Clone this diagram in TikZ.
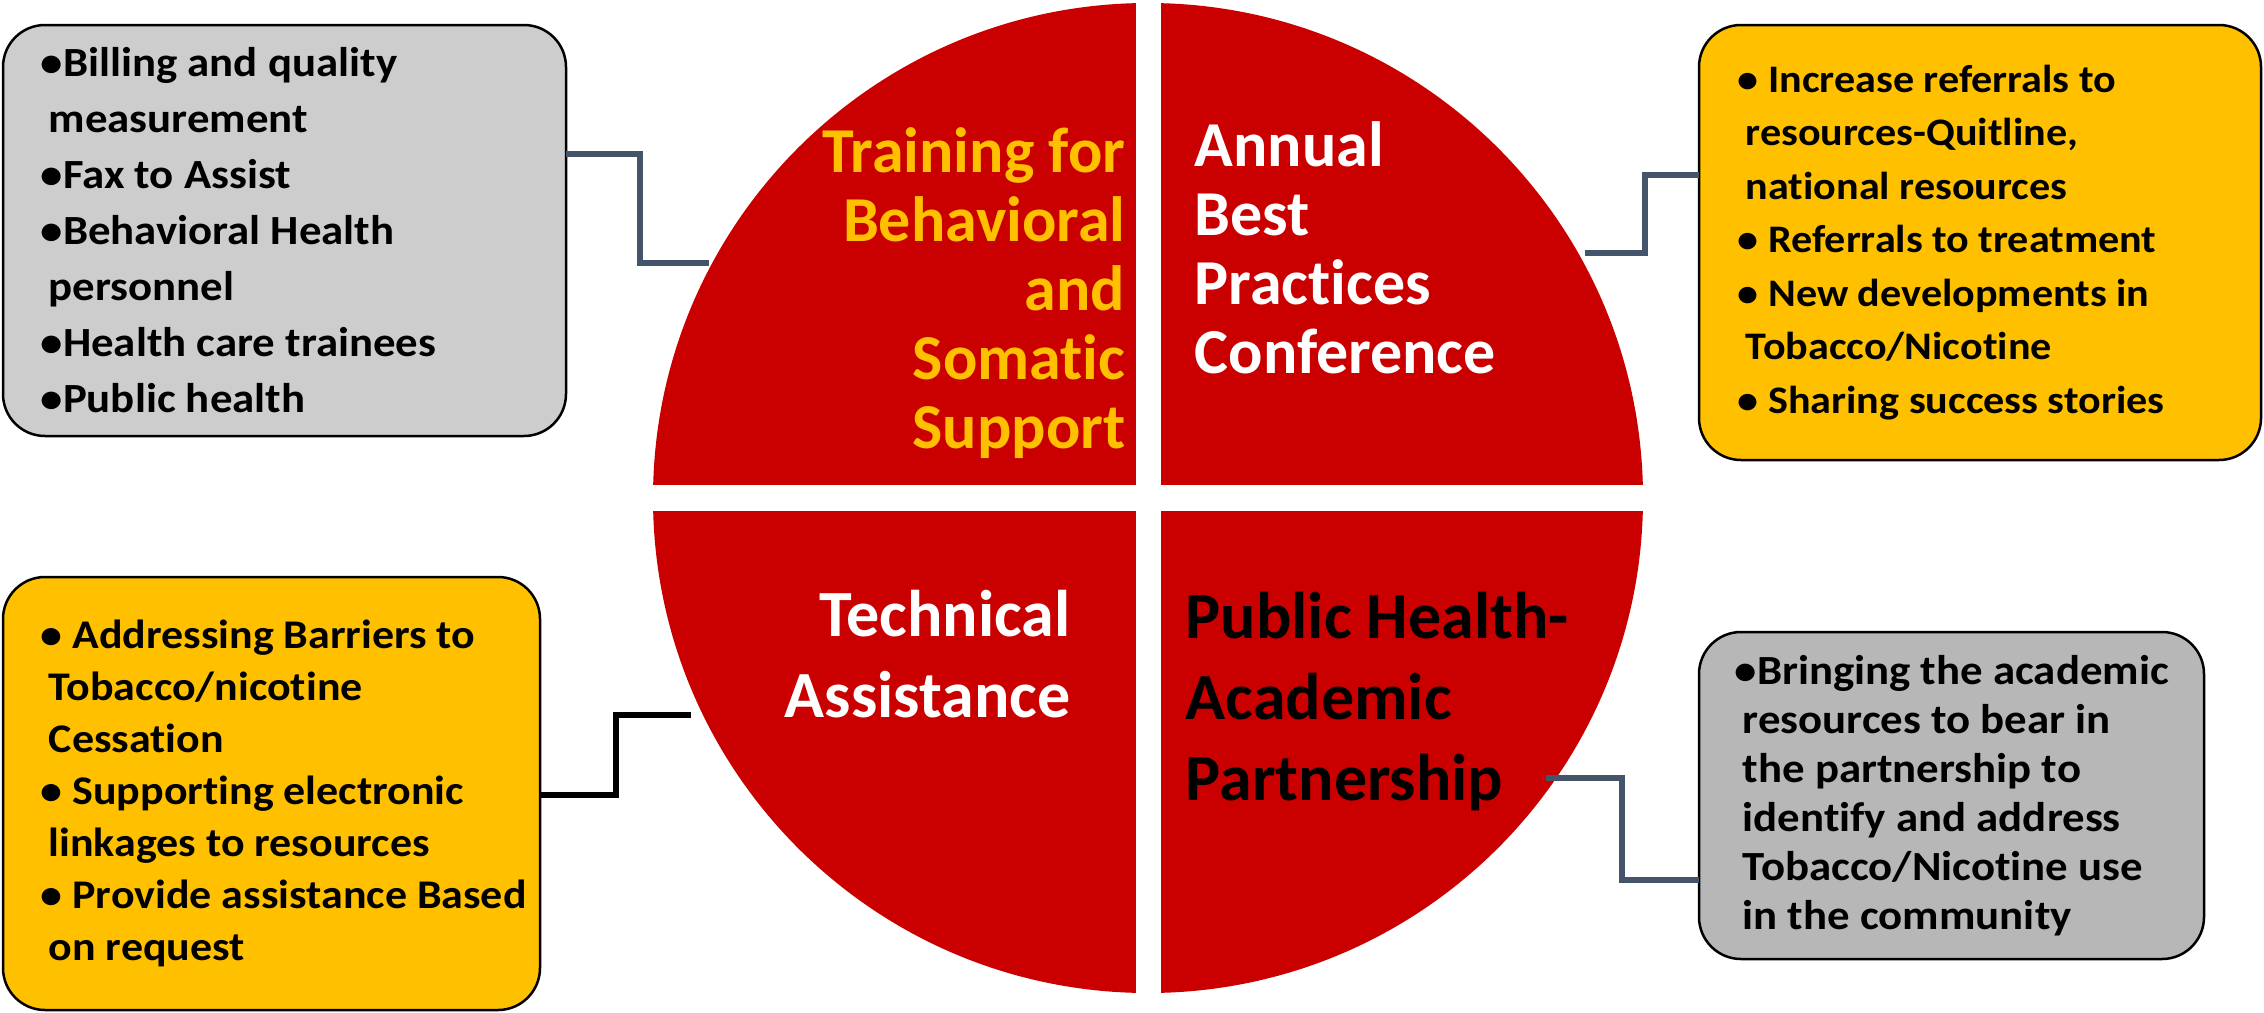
\documentclass[tikz,border=0pt]{standalone}
\usepackage{fontspec}
\setmainfont{Carlito}[Ligatures=NoCommon]
\newfontfamily\boxfont{Carlito}[FakeStretch=1.08, Ligatures=NoCommon]
\usetikzlibrary{%
  positioning,% wg. " of "
  calc%
}

\definecolor{pieRed}{RGB}{202,0,0}
\definecolor{amber}{RGB}{255,192,0}
\definecolor{paleGray}{RGB}{205,205,205}
\definecolor{darkGray}{RGB}{183,183,183}
\definecolor{slate}{RGB}{68,84,106}

% indent of a wrapped bullet line
\newcommand{\cont}{\hspace*{8pt}}

\begin{document}
\begin{tikzpicture}[
  x=1pt, y=-1pt,
  font=\bfseries,
  line width=5.5pt,
  link/.style={draw=slate},
  box/.style={draw=black, line width=2.5pt, rounded corners=42pt,
    anchor=north west, outer sep=0pt, inner sep=0pt},
  boxtext/.style 2 args={inner sep=0pt, align=left,
    font=\boxfont\bfseries\fontsize{#1}{#2}\selectfont},
  quad/.style 2 args={inner sep=0pt, font=\bfseries\fontsize{#1}{#2}\selectfont},
]
\useasboundingbox (0,0) rectangle (2264,1012);

% the pie, cut in four
\fill[pieRed] (1148,498) circle[radius=495];
\fill[white] (1136,0) rectangle (1161,1012);
\fill[white] (600,485) rectangle (1700,511);

\node[quad={64}{69}, anchor=east, align=right, text=amber] (training) at (1128,293)
  {Training for\\Behavioral\\and\\Somatic\\Support};
\node[quad={64}{69}, anchor=west, align=left, text=white] (annual) at (1192,248)
  {Annual\\Best\\Practices\\Conference};
\node[quad={66}{81}, anchor=east, align=right, text=white] (techAssist) at (1073,654)
  {Technical\\Assistance};
\node[quad={66}{81}, anchor=west, align=left, text=black] (academic) at (1183,702)
  {Public Health-\\Academic\\Partnership};

% side boxes
\node[box, fill=paleGray, minimum width=563, minimum height=411] (tlBox) at (3,25) {};
\node[boxtext={41.5}{56}, right=35pt of tlBox.west] (tlList)
  {•Billing and quality\\\cont measurement\\•Fax to Assist\\•Behavioral Health\\
   \cont personnel\\•Health care trainees\\•Public health};

\node[box, fill=amber, minimum width=562, minimum height=435] (trBox) at (1699,25) {};
\node[boxtext={39}{53.5}, right=36pt of trBox.west] (trList)
  {• Increase referrals to\\\cont resources-Quitline,\\\cont national resources\\
   • Referrals to treatment\\• New developments in\\\cont Tobacco/Nicotine\\
   • Sharing success stories};

\node[box, fill=amber, minimum width=537, minimum height=433] (blBox) at (3,577) {};
\node[boxtext={40.7}{52}, right=35pt of blBox.west] (blList)
  {• Addressing Barriers to\\\cont Tobacco/nicotine\\\cont Cessation\\
   • Supporting electronic\\\cont linkages to resources\\
   • Provide assistance Based\\\cont on request};

\node[box, fill=darkGray, minimum width=505, minimum height=327] (brBox) at (1699,632) {};
\node[boxtext={41.5}{49}, right=33pt of brBox.west] (brList)
  {•Bringing the academic\\\cont resources to bear in\\\cont the partnership to\\
   \cont identify and address\\\cont Tobacco/Nicotine use\\\cont in the community};

% elbow links
\coordinate (tlPin) at (709,263);
\coordinate (trPin) at (1585,253);
\coordinate (blPin) at (691,715);
\coordinate (brPin) at (1546,778);

\draw[link] (tlBox.east |- 0,154) -- ++(74,0) |- (tlPin);
\draw[link] (trPin) -- ++(60,0) |- (trBox.west |- 0,175);
\draw[link, draw=black] (blBox.east |- 0,795) -- ++(76,0) |- (blPin);
\draw[link] (brPin) -- ++(76,0) |- (brBox.west |- 0,880);

\end{tikzpicture}
\end{document}
